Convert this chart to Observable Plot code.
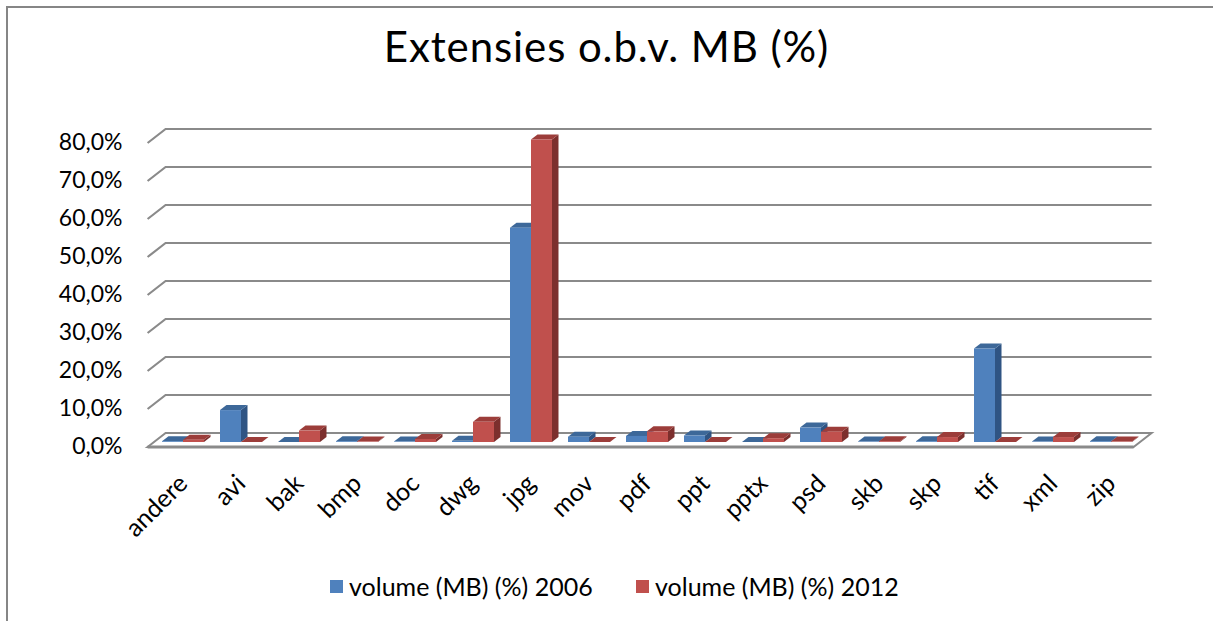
<!DOCTYPE html>
<html>
<head>
<meta charset="utf-8">
<script src="https://cdn.jsdelivr.net/npm/d3@7"></script>
<script src="https://cdn.jsdelivr.net/npm/@observablehq/plot@0.6"></script>
<style>
  html, body { margin: 0; padding: 0; background: #fff; overflow: hidden; }
  #page { position: relative; width: 1213px; height: 621px; overflow: hidden; font-family: Lato, "Open Sans", sans-serif; color: #000; }
  #border { position: absolute; left: 6px; top: 6px; width: 1300px; height: 700px; border: 2px solid #868686; box-sizing: border-box; }
  #title { position: absolute; left: 0; top: 21px; width: 1213px; text-align: center; font-size: 42px; letter-spacing: 0.9px; line-height: 1.2; white-space: nowrap; }
  #chart { position: absolute; left: 0; top: 100px; }
  .leg { position: absolute; top: 570px; font-size: 25px; line-height: 32px; white-space: nowrap; display: flex; align-items: center; }
  .leg i { display: inline-block; width: 13px; height: 13px; margin-right: 6px; }
</style>
</head>
<body>
<div id="page">
  <div id="border"></div>
  <div id="title"></div>
  <div id="chart"></div>
</div>
<script>
// File extensions and their share of total volume (MB), 2006 vs 2012
const categories = ["andere", "avi", "bak", "bmp", "doc", "dwg", "jpg", "mov", "pdf", "ppt", "pptx", "psd", "skb", "skp", "tif", "xml", "zip"];
const volume2006 = [0.2, 8.4, 0.0, 0.2, 0.1, 0.3, 56.4, 1.4, 1.6, 1.7, 0.0, 3.8, 0.1, 0.2, 24.6, 0.1, 0.2];
const volume2012 = [0.6, 0.0, 3.0, 0.1, 0.8, 5.3, 79.6, 0.0, 2.8, 0.0, 1.0, 2.7, 0.2, 1.3, 0.0, 1.3, 0.1];
const seriesNames = ["volume (MB) (%) 2006", "volume (MB) (%) 2012"];
const yTicks = [0, 10, 20, 30, 40, 50, 60, 70, 80];
const titleText = "Extensies o.b.v. MB (%)";

// face colours per series: front, top, side
const palette = [
  {front: "#4f81bd", top: "#3d6899", side: "#2f5483"},
  {front: "#c0504d", top: "#9c3d3a", side: "#7c2f2d"}
];

// 3D projection offsets (pixels) relative to the plane the columns stand in
const backOff = [11.6, -9];   // back wall
const frontOff = [-6.4, 5];   // front edge of the floor
const colOff = [6.5, -5];     // depth of a single column

const fmt = d => d.toFixed(1).replace(".", ",") + "%";

// back wall gridlines with their left-wall diagonals, plus the floor
function walls(index, {x, y}) {
  const step = x(categories[1]) - x(categories[0]);
  const xL = x(categories[0]);
  const xR = x(categories[categories.length - 1]) + step;
  const g = d3.create("svg:g").attr("fill", "none").attr("stroke", "#8a8a8a");
  for (const t of yTicks) {
    if (t === 0) continue;
    const yt = y(t);
    g.append("path")
      .attr("stroke-width", 2.2)
      .attr("d", `M${xL + frontOff[0]},${yt + frontOff[1]}L${xL + backOff[0]},${yt + backOff[1]}L${xR + backOff[0]},${yt + backOff[1]}`);
  }
  const y0 = y(0);
  g.append("path")
    .attr("fill", "#fff")
    .attr("stroke-width", 2)
    .attr("d", `M${xL + frontOff[0]},${y0 + frontOff[1]}L${xL + backOff[0]},${y0 + backOff[1]}L${xR + backOff[0]},${y0 + backOff[1]}L${xR + frontOff[0]},${y0 + frontOff[1]}Z`);
  g.append("path")
    .attr("stroke-width", 3)
    .attr("d", `M${xL + frontOff[0]},${y0 + frontOff[1]}L${xR + frontOff[0]},${y0 + frontOff[1]}`);
  return g.node();
}

// clustered 3D columns
function columns(index, {x, y}) {
  const step = x(categories[1]) - x(categories[0]);
  const w = step * 0.362;
  const [ddx, ddy] = colOff;
  const g = d3.create("svg:g");
  const series = [volume2006, volume2012];
  categories.forEach((c, i) => {
    const cx = x(c) + step / 2;
    series.forEach((vals, k) => {
      const x0 = cx + (k - 1) * w, x1 = x0 + w;
      const y0 = y(0), y1 = y(vals[i]);
      const col = palette[k];
      g.append("path").attr("fill", col.side)
        .attr("d", `M${x1},${y1}L${x1 + ddx},${y1 + ddy}L${x1 + ddx},${y0 + ddy}L${x1},${y0}Z`);
      g.append("path").attr("fill", col.top)
        .attr("d", `M${x0},${y1}L${x0 + ddx},${y1 + ddy}L${x1 + ddx},${y1 + ddy}L${x1},${y1}Z`);
      if (y0 - y1 > 0.3) {
        g.append("rect").attr("fill", col.front)
          .attr("x", x0).attr("y", y1).attr("width", w).attr("height", y0 - y1);
      }
    });
  });
  return g.node();
}

const chart = Plot.plot({
  width: 1213,
  height: 470,
  marginLeft: 130,
  marginTop: 0,
  marginRight: 0,
  marginBottom: 0,
  style: {fontFamily: "Lato, 'Open Sans', sans-serif", background: "transparent", color: "#000"},
  x: {type: "band", domain: categories, range: [153.4, 1141.4], padding: 0, axis: null},
  y: {domain: [0, 80], range: [342, 38], axis: null},
  marks: [
    walls,
    columns,
    Plot.axisY({ticks: yTicks, tickFormat: fmt, tickSize: 0, tickPadding: 8, dy: 4, fontSize: 23, label: null}),
    Plot.text(categories, {
      x: d => d, y: () => 0, text: d => d,
      rotate: -45, textAnchor: "end", lineAnchor: "top",
      dx: -7, dy: 30, fontSize: 25, fill: "#000"
    })
  ]
});
document.getElementById("chart").appendChild(chart);

document.getElementById("title").textContent = titleText;

const page = document.getElementById("page");
const legendLeft = [330, 636];
seriesNames.forEach((name, k) => {
  const item = document.createElement("div");
  item.className = "leg";
  item.style.left = legendLeft[k] + "px";
  const sw = document.createElement("i");
  sw.style.background = palette[k].front;
  item.appendChild(sw);
  item.appendChild(document.createTextNode(name));
  page.appendChild(item);
});
</script>
</body>
</html>
